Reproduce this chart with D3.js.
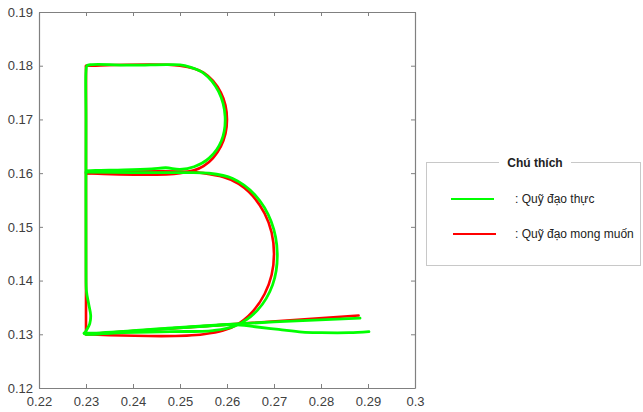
<!DOCTYPE html>
<html>
<head>
<meta charset="utf-8">
<script src="https://cdn.jsdelivr.net/npm/d3@7"></script>
<style>
body { margin: 0; background: #fff; }
text { font-family: "Liberation Sans", Arial, sans-serif; }
</style>
</head>
<body>
<div id="chart"></div>
<script>
const X_TICKS = [0.22, 0.23, 0.24, 0.25, 0.26, 0.27, 0.28, 0.29, 0.3];
const X_TICK_LABELS = ["0.22", "0.23", "0.24", "0.25", "0.26", "0.27", "0.28", "0.29", "0.3"];
const Y_TICKS = [0.12, 0.13, 0.14, 0.15, 0.16, 0.17, 0.18, 0.19];
const Y_TICK_LABELS = ["0.12", "0.13", "0.14", "0.15", "0.16", "0.17", "0.18", "0.19"];

// desired trajectory (red)
const desiredUpper = [
   [0.2880, 0.1335], [0.2305, 0.13003], [0.2300, 0.1300], [0.2300, 0.1305],
   [0.2300, 0.1795], [0.2300, 0.1800], [0.2305, 0.1800], [0.2500, 0.1800],
   [0.2550, 0.1787], [0.2587, 0.1750], [0.2600, 0.1700], [0.2587, 0.1650],
   [0.2550, 0.1613], [0.2500, 0.1600], [0.2300, 0.1600]
];
const desiredLower = [
   [0.2300, 0.1600], [0.2550, 0.1600], [0.2625, 0.1580], [0.2680, 0.1525],
   [0.2700, 0.1450], [0.2680, 0.1375], [0.2625, 0.1320], [0.2550, 0.1300],
   [0.2300, 0.1300]
];

// actual trajectory (green)
const actualStart = [
   [0.2902, 0.1305], [0.2860, 0.1303], [0.2800, 0.1303], [0.2760, 0.1304],
   [0.2710, 0.1309], [0.2660, 0.1314], [0.2615, 0.1318], [0.2550, 0.1315],
   [0.2450, 0.1309], [0.2360, 0.1303], [0.2310, 0.1300], [0.2297, 0.1301],
   [0.2302, 0.1309], [0.2308, 0.1320], [0.2310, 0.1335], [0.2306, 0.1355],
   [0.2301, 0.1380], [0.2300, 0.1420], [0.2300, 0.1700], [0.2300, 0.1790],
   [0.2302, 0.1800], [0.2312, 0.1802], [0.2400, 0.1801], [0.2480, 0.1802],
   [0.2510, 0.1800], [0.2552, 0.1785], [0.2582, 0.1752], [0.2596, 0.1705],
   [0.2588, 0.1660], [0.2562, 0.1628], [0.2530, 0.1612], [0.2500, 0.1607],
   [0.2470, 0.1610], [0.2440, 0.1608], [0.2380, 0.1606], [0.2320, 0.1605],
   [0.2300, 0.1604]
];
const actualLower = [
   [0.2300, 0.1602], [0.2400, 0.1601], [0.2500, 0.1601], [0.2560, 0.1600],
   [0.2612, 0.1590], [0.2660, 0.1559], [0.2694, 0.1510], [0.2707, 0.1450],
   [0.2697, 0.1392], [0.2665, 0.1345], [0.2618, 0.1316], [0.2570, 0.1307],
   [0.2480, 0.1305], [0.2380, 0.1303], [0.2300, 0.1301], [0.2296, 0.1302]
];
const actualTail = [
   [0.2296, 0.1302], [0.2310, 0.1302], [0.2500, 0.1313], [0.2700, 0.1323],
   [0.2883, 0.1330]
];

const LEGEND_LABELS = [": Quỹ đạo thực", ": Quỹ đạo mong muốn"];
const LEGEND_COLORS = ["#00ff00", "#ff0000"];

const WIDTH = 643;
const HEIGHT = 412;
const LEFT = 39, RIGHT = 415, TOP = 12, BOTTOM = 388;
const AXIS_COLOR = "#808080";

const svg = d3.select("#chart")
   .append("svg")
   .attr("width", WIDTH)
   .attr("height", HEIGHT);

svg.append("rect").attr("width", WIDTH).attr("height", HEIGHT).attr("fill", "#fff");

const x = d3.scaleLinear().domain([0.22, 0.3]).range([LEFT, RIGHT]);
const y = d3.scaleLinear().domain([0.12, 0.19]).range([BOTTOM, TOP]);

const styleAxis = g => {
   g.selectAll("path.domain").attr("stroke", AXIS_COLOR).attr("stroke-width", 1.2);
   g.selectAll(".tick line").attr("stroke", AXIS_COLOR);
   g.selectAll(".tick text")
      .attr("fill", "#404040")
      .attr("font-size", "13px")
      .attr("font-family", "'Liberation Sans', Arial, sans-serif");
}

svg.append("g")
   .attr("transform", `translate(0,${BOTTOM})`)
   .call(d3.axisBottom(x).tickValues(X_TICKS).tickFormat((d, i) => X_TICK_LABELS[i])
      .tickSizeInner(-4).tickSizeOuter(0).tickPadding(9))
   .call(styleAxis);
svg.append("g")
   .attr("transform", `translate(0,${TOP})`)
   .call(d3.axisTop(x).tickValues(X_TICKS).tickFormat("")
      .tickSizeInner(-4).tickSizeOuter(0))
   .call(styleAxis);
svg.append("g")
   .attr("transform", `translate(${LEFT},0)`)
   .call(d3.axisLeft(y).tickValues(Y_TICKS).tickFormat((d, i) => Y_TICK_LABELS[i])
      .tickSizeInner(-4).tickSizeOuter(0).tickPadding(6))
   .call(styleAxis);
svg.append("g")
   .attr("transform", `translate(${RIGHT},0)`)
   .call(d3.axisRight(y).tickValues(Y_TICKS).tickFormat("")
      .tickSizeInner(-4).tickSizeOuter(0))
   .call(styleAxis);

const line = d3.line()
   .x(d => x(d[0]))
   .y(d => y(d[1]))
   .curve(d3.curveCatmullRom.alpha(0.5));

const plot = svg.append("g");
[desiredUpper, desiredLower].forEach(pts => {
   plot.append("path")
      .attr("d", line(pts))
      .attr("fill", "none")
      .attr("stroke", "#ff0000")
      .attr("stroke-width", 2.6)
      .attr("stroke-linejoin", "round")
      .attr("stroke-linecap", "round");
});
[actualStart, actualLower, actualTail].forEach(pts => {
   plot.append("path")
      .attr("d", line(pts))
      .attr("fill", "none")
      .attr("stroke", "#00ff00")
      .attr("stroke-width", 2.8)
      .attr("stroke-linejoin", "round")
      .attr("stroke-linecap", "round");
});

// legend group box
const legend = svg.append("g");
legend.append("rect")
   .attr("x", 426.5).attr("y", 162.5)
   .attr("width", 214).attr("height", 103)
   .attr("fill", "none")
   .attr("stroke", "#c8c8c8");
legend.append("rect")
   .attr("x", 499).attr("y", 157)
   .attr("width", 72).attr("height", 10)
   .attr("fill", "#fff");
legend.append("text")
   .attr("x", 535).attr("y", 166.5)
   .attr("text-anchor", "middle")
   .attr("font-size", "12px")
   .attr("font-weight", "bold")
   .attr("fill", "#222")
   .text("Chú thích");

const legendItem = legend.selectAll("g.item")
   .data(LEGEND_LABELS)
   .join("g")
   .attr("class", "item")
   .attr("transform", (d, i) => `translate(0, ${199 + i * 35})`);
legendItem.append("line")
   .attr("x1", (d, i) => 451 + i * 2).attr("x2", (d, i) => 494 + i * 2)
   .attr("stroke", (d, i) => LEGEND_COLORS[i])
   .attr("stroke-width", 2);
legendItem.append("text")
   .attr("x", 515).attr("y", 4)
   .attr("font-size", "12px")
   .attr("fill", "#222")
   .text(d => d);
</script>
</body>
</html>
